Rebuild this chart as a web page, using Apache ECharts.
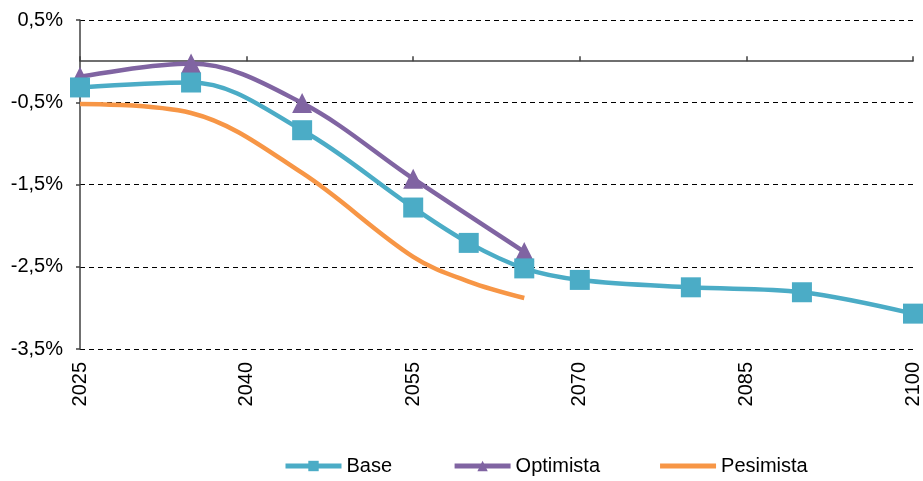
<!DOCTYPE html>
<html>
<head>
<meta charset="utf-8">
<script src="https://cdn.jsdelivr.net/npm/echarts@6/dist/echarts.min.js"></script>
<style>
  html, body { margin: 0; padding: 0; background: #fff; }
  #chart { width: 923px; height: 481px; }
</style>
</head>
<body>
<div id="chart"></div>
<script>
// Scenario projections (% values)
const baseYears = [2025, 2035, 2045, 2055, 2060, 2065, 2070, 2080, 2090, 2100];
const baseValues = [-0.32, -0.26, -0.84, -1.78, -2.21, -2.52, -2.66, -2.75, -2.81, -3.07];

const optYears = [2025, 2035, 2045, 2055, 2065];
const optValues = [-0.19, -0.03, -0.51, -1.43, -2.32];

const pesYears = [2025, 2035, 2045, 2055, 2060, 2065];
const pesValues = [-0.52, -0.63, -1.36, -2.38, -2.68, -2.88];

const seriesNames = ['Base', 'Optimista', 'Pesimista'];
const yTicks = { min: -3.5, max: 0.5, step: 1 };
const xTicks = { min: 2025, max: 2100, step: 15 };

const pairs = (xs, ys) => xs.map((x, i) => [x, ys[i]]);
const pct = v => v.toFixed(1).replace('.', ',') + '%';
const FONT = 'Liberation Sans, Arial, sans-serif';

const chart = echarts.init(document.getElementById('chart'), null, { renderer: 'canvas' });

chart.setOption({
  animation: false,
  backgroundColor: '#ffffff',
  grid: { left: 80, right: 10, top: 20, bottom: 132, containLabel: false },
  legend: {
    data: [
      { name: seriesNames[0], lineStyle: { width: 5 } },
      { name: seriesNames[1], lineStyle: { width: 5 } },
      // plain line swatch for the series drawn without markers
      { name: seriesNames[2], icon: 'path://M0,4 L56,4 L56,9 L0,9 Z' }
    ],
    left: 283,
    top: 456,
    padding: 0,
    itemWidth: 56,
    itemHeight: 13,
    itemGap: 60,
    textStyle: { fontFamily: FONT, fontSize: 20, color: '#000' }
  },
  xAxis: [
    {
      type: 'value',
      min: xTicks.min, max: xTicks.max, interval: xTicks.step,
      position: 'bottom',
      axisLine: { show: false, onZero: false },
      axisTick: { show: false },
      splitLine: { show: false },
      axisLabel: {
        rotate: 90, margin: 13,
        fontFamily: FONT, fontSize: 20, color: '#000',
        formatter: v => String(v)
      }
    },
    {
      type: 'value',
      min: xTicks.min, max: xTicks.max, interval: xTicks.step,
      position: 'bottom',
      axisLine: { show: true, onZero: true, lineStyle: { color: '#404040', width: 1.5 } },
      axisTick: { show: true, inside: true, length: 5, lineStyle: { color: '#404040', width: 1.5 } },
      splitLine: { show: false },
      axisLabel: { show: false }
    }
  ],
  yAxis: {
    type: 'value',
    min: yTicks.min, max: yTicks.max, interval: yTicks.step,
    axisLine: { show: true, lineStyle: { color: '#404040', width: 1.5 } },
    axisTick: { show: true, length: 4, lineStyle: { color: '#404040', width: 1.5 } },
    splitLine: { show: true, lineStyle: { color: '#000', type: [5, 4], width: 1 } },
    axisLabel: { margin: 17, fontFamily: FONT, fontSize: 20, color: '#000', formatter: pct }
  },
  series: [
    {
      name: seriesNames[0], type: 'line', xAxisIndex: 0,
      data: pairs(baseYears, baseValues),
      smooth: 0.35, symbol: 'rect', symbolSize: 20,
      lineStyle: { color: '#4BACC6', width: 4.5 },
      itemStyle: { color: '#4BACC6' }, z: 3
    },
    {
      name: seriesNames[1], type: 'line', xAxisIndex: 0,
      data: pairs(optYears, optValues),
      smooth: 0.35, symbol: 'triangle', symbolSize: 20,
      lineStyle: { color: '#8064A2', width: 4.5 },
      itemStyle: { color: '#8064A2' }, z: 2
    },
    {
      name: seriesNames[2], type: 'line', xAxisIndex: 0,
      data: pairs(pesYears, pesValues),
      smooth: 0.35, symbol: 'none', showSymbol: false,
      lineStyle: { color: '#F79646', width: 4.5 },
      itemStyle: { color: '#F79646' }, z: 1
    }
  ]
});
</script>
</body>
</html>
